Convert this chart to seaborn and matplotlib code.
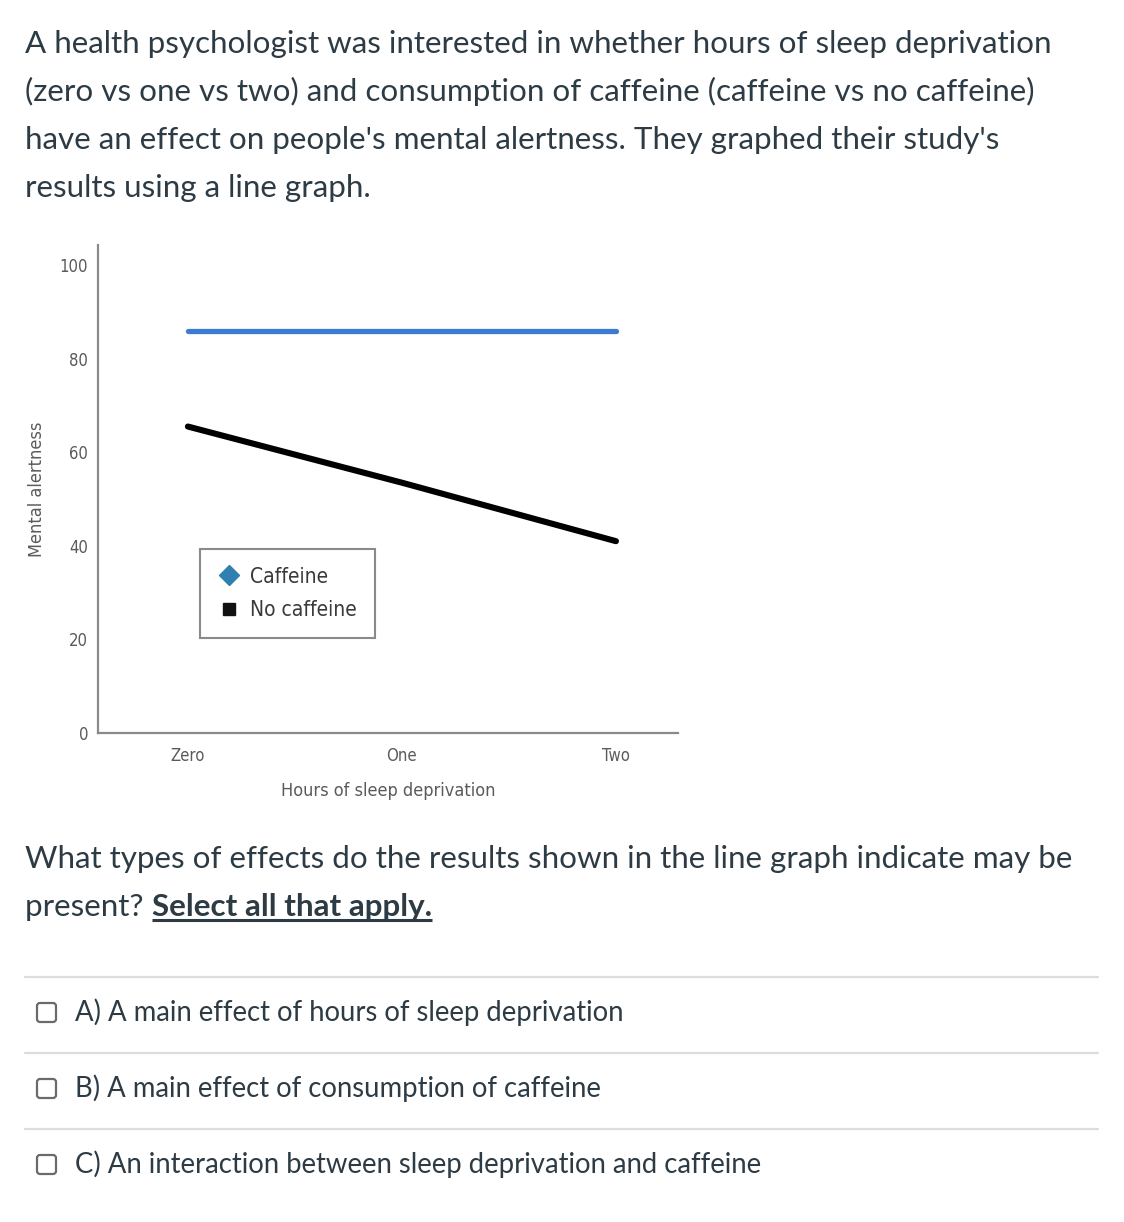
import numpy as np
import pandas as pd
import matplotlib
matplotlib.use("Agg")
import matplotlib.pyplot as plt
from matplotlib.lines import Line2D
from matplotlib.patches import FancyBboxPatch
import seaborn as sns

# data
hours = ["Zero", "One", "Two"]
caffeine = [86, 86, 86]
no_caffeine = [65.5, 53.5, 41]
conditions = ["Caffeine", "No caffeine"]
y_ticks = [0, 20, 40, 60, 80, 100]

intro_lines = [
    "A health psychologist was interested in whether hours of sleep deprivation",
    "(zero vs one vs two) and consumption of caffeine (caffeine vs no caffeine)",
    "have an effect on people's mental alertness. They graphed their study's",
    "results using a line graph.",
]
question_line1 = "What types of effects do the results shown in the line graph indicate may be"
question_line2 = "present? "
question_bold = "Select all that apply."
options = [
    "A) A main effect of hours of sleep deprivation",
    "B) A main effect of consumption of caffeine",
    "C) An interaction between sleep deprivation and caffeine",
]

df = pd.DataFrame({
    "hours": hours * 2,
    "alertness": caffeine + no_caffeine,
    "condition": [conditions[0]] * 3 + [conditions[1]] * 3,
})

sns.set_style("white")
plt.rcParams["font.family"] = ["Lato", "DejaVu Sans"]

W, H = 1124, 1222
fig = plt.figure(figsize=(W / 100, H / 100), dpi=100)
fig.patch.set_facecolor("white")

# page overlay in pixel coordinates
bg = fig.add_axes([0, 0, 1, 1])
bg.set_xlim(0, W)
bg.set_ylim(H, 0)
bg.axis("off")

txt_col = "#2d3b45"
big = 22.6
small = 19.8

for i, line in enumerate(intro_lines):
    bg.text(25, 53 + i * 48, line, fontsize=big, color=txt_col, va="baseline", ha="left")

bg.text(25, 868, question_line1, fontsize=big, color=txt_col, va="baseline", ha="left")
t_pre = bg.text(25, 916, question_line2, fontsize=big, color=txt_col, va="baseline", ha="left")

fig.canvas.draw()
r = fig.canvas.get_renderer()
bb = t_pre.get_window_extent(r)
x_bold = bb.x1
t_bold = bg.text(x_bold, 916, question_bold, fontsize=big, color=txt_col,
                 va="baseline", ha="left", fontweight="bold")
bb2 = t_bold.get_window_extent(r)
bg.plot([bb2.x0, bb2.x1], [920, 920], color=txt_col, lw=2.2, solid_capstyle="butt")

# option rows
for yy in [977, 1053, 1129]:
    bg.plot([25, 1098], [yy, yy], color="#dcdcdc", lw=1.6)

for i, opt in enumerate(options):
    yb = 1021 + i * 76
    box = FancyBboxPatch((37, yb - 18), 19, 19, boxstyle="round,pad=0,rounding_size=3",
                         fc="white", ec="#6b6b6b", lw=1.6)
    bg.add_patch(box)
    bg.text(75, yb, opt, fontsize=small, color=txt_col, va="baseline", ha="left")

# chart
ax = fig.add_axes([98 / W, 1 - 733 / H, 580 / W, 488 / H])
ax.set_facecolor("none")
palette = {"Caffeine": "#3b7bd0", "No caffeine": "#000000"}
sns.lineplot(data=df, x="hours", y="alertness", hue="condition", palette=palette,
             linewidth=3.8, legend=False, ax=ax, sort=False)
ax.lines[1].set_linewidth(4.4)

ax.set_xlim(-0.42, 2.29)
ax.set_ylim(0, 104.3)
ax.set_yticks(y_ticks)
ax.set_xticks(range(len(hours)))
ax.set_xticklabels(hours)

narrow = ["DejaVu Sans"]
gray = "#5a5a5a"
for s in ["top", "right"]:
    ax.spines[s].set_visible(False)
for s in ["left", "bottom"]:
    ax.spines[s].set_color("#8a8a8a")
    ax.spines[s].set_linewidth(1.6)

ax.tick_params(axis="both", direction="in", length=14, width=1.2, color="#8a8a8a",
               labelcolor=gray, labelsize=12)
ax.tick_params(axis="y", pad=7)
ax.tick_params(axis="x", pad=10)
for lab in ax.get_xticklabels() + ax.get_yticklabels():
    lab.set_family(narrow)
    lab.set_stretch("condensed")

ax.set_xlabel("Hours of sleep deprivation", fontsize=13, color=gray, family=narrow,
              stretch="condensed", labelpad=12)
ax.set_ylabel("Mental alertness", fontsize=13, color=gray, family=narrow,
              stretch="condensed", labelpad=10)

handles = [
    Line2D([], [], marker="D", color="#2f7fb0", linestyle="none", markersize=10),
    Line2D([], [], marker="s", color="#111111", linestyle="none", markersize=8.5),
]
leg = ax.legend(handles, conditions, loc="lower left", bbox_to_anchor=(0.176, 0.195),
                borderaxespad=0, fancybox=False, framealpha=1, edgecolor="#8a8a8a",
                prop={"family": narrow, "size": 15, "stretch": "condensed"},
                handletextpad=0.45, borderpad=0.85, labelspacing=0.65, handlelength=1.1)
leg.get_frame().set_linewidth(1.5)
for t in leg.get_texts():
    t.set_color("#3a3a3a")

fig.savefig("out.png", dpi=100, facecolor="white")
